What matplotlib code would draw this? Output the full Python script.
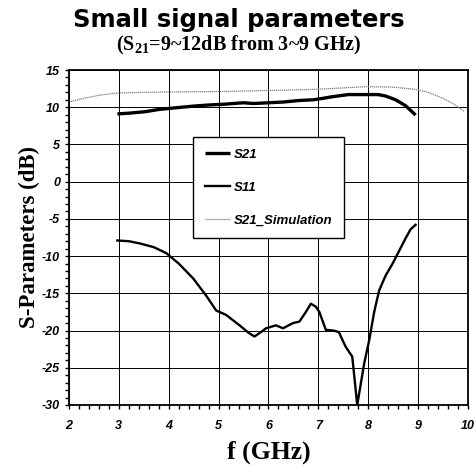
import matplotlib
matplotlib.use("Agg")
import matplotlib.pyplot as plt
from matplotlib.ticker import MultipleLocator

plt.rcParams['mathtext.fontset'] = 'custom'
plt.rcParams['mathtext.bf'] = 'Liberation Serif:bold'
plt.rcParams['mathtext.rm'] = 'Liberation Serif:bold'

# measured S21 (dB)
s21_f = [2.97, 3.2, 3.53, 3.8, 4.1, 4.5, 4.8, 5.1, 5.5, 5.7, 6.0, 6.3, 6.61, 6.9, 7.1, 7.27, 7.6, 7.9, 8.2, 8.35, 8.55, 8.75, 8.95]
s21_db = [9.1, 9.2, 9.4, 9.7, 9.9, 10.15, 10.3, 10.4, 10.6, 10.5, 10.6, 10.7, 10.9, 11.0, 11.2, 11.4, 11.7, 11.7, 11.7, 11.5, 11.0, 10.2, 8.95]

# measured S11 (dB)
s11_f = [2.97, 3.2, 3.42, 3.7, 3.95, 4.2, 4.49, 4.75, 4.95, 5.15, 5.42, 5.6, 5.72, 5.85, 5.95, 6.15, 6.29, 6.49, 6.62, 6.75, 6.85, 6.95, 7.02, 7.15, 7.3, 7.41, 7.55, 7.68, 7.78, 7.92, 8.02, 8.12, 8.22, 8.35, 8.49, 8.62, 8.75, 8.85, 8.95]
s11_db = [-7.9, -8.0, -8.3, -8.8, -9.6, -11.0, -13.0, -15.3, -17.3, -17.9, -19.3, -20.3, -20.8, -20.2, -19.7, -19.3, -19.7, -19.0, -18.8, -17.5, -16.4, -16.8, -17.5, -19.9, -20.0, -20.2, -22.2, -23.5, -30.0, -24.4, -21.3, -17.5, -14.6, -12.6, -11.0, -9.3, -7.6, -6.4, -5.8]

# simulated S21 (dB)
sim_f = [2.0, 2.3, 2.6, 2.95, 3.5, 4.0, 4.95, 6.0, 6.95, 7.5, 7.95, 8.5, 8.95, 9.2, 9.5, 9.75, 9.93]
sim_db = [10.7, 11.2, 11.6, 11.9, 12.0, 12.05, 12.1, 12.25, 12.4, 12.6, 12.76, 12.7, 12.4, 12.0, 11.2, 10.3, 9.4]

x_ticks = [2, 3, 4, 5, 6, 7, 8, 9, 10]
y_ticks = [15, 10, 5, 0, -5, -10, -15, -20, -25, -30]

fig = plt.figure(figsize=(4.77, 4.73), dpi=100)
ax = fig.add_axes([0.1447, 0.1438, 0.8363, 0.7082])

ax.plot(s21_f, s21_db, color='black', lw=2.4, label='S21', solid_capstyle='butt')
ax.plot(s11_f, s11_db, color='black', lw=1.7, label='S11')
ax.plot(sim_f, sim_db, color='#808080', lw=0.9, ls=(0, (1, 0.6)), label='S21_Simulation')

ax.set_xlim(2, 10)
ax.set_ylim(-30, 15)
ax.set_xticks(x_ticks)
ax.set_yticks(y_ticks)
ax.xaxis.set_minor_locator(MultipleLocator(0.2))
ax.yaxis.set_minor_locator(MultipleLocator(1))
ax.tick_params(which='both', direction='out', length=3, width=1, colors='black')
ax.grid(True, which='major', color='black', lw=0.7)
for s in ax.spines.values():
    s.set_linewidth(1.3)

tick_font = dict(family='Liberation Sans', weight='bold', style='italic', size=9)
ax.set_xticklabels([str(v) for v in x_ticks], **tick_font)
ax.set_yticklabels([str(v) for v in y_ticks], **tick_font)
ax.tick_params(axis='x', pad=8)

ax.set_xlabel('f (GHz)', family='Liberation Serif', weight='bold', size=18.5, labelpad=6)
ax.set_ylabel('S-Parameters (dB)', family='Liberation Serif', weight='bold', size=16.5, labelpad=1)

fig.text(0.5, 0.958, 'Small signal parameters', ha='center', va='center',
         family='DejaVu Sans', weight='heavy', size=17.5)
fig.text(0.5, 0.903, r'(S$_{\mathbf{21}}$=9~12dB from 3~9 GHz)', ha='center', va='center',
         family='Liberation Serif', weight='bold', size=14.5)

leg = ax.legend(loc='upper left', bbox_to_anchor=(0.31, 0.8), borderaxespad=0, frameon=True,
                fancybox=False, edgecolor='black', handlelength=1.9, handletextpad=0.3,
                labelspacing=1.55, borderpad=0.9,
                prop=dict(family='Liberation Sans', weight='bold', style='italic', size=9.5))
leg.get_frame().set_linewidth(1.0)
leg.get_frame().set_alpha(1)

fig.savefig('out.png', dpi=100)
